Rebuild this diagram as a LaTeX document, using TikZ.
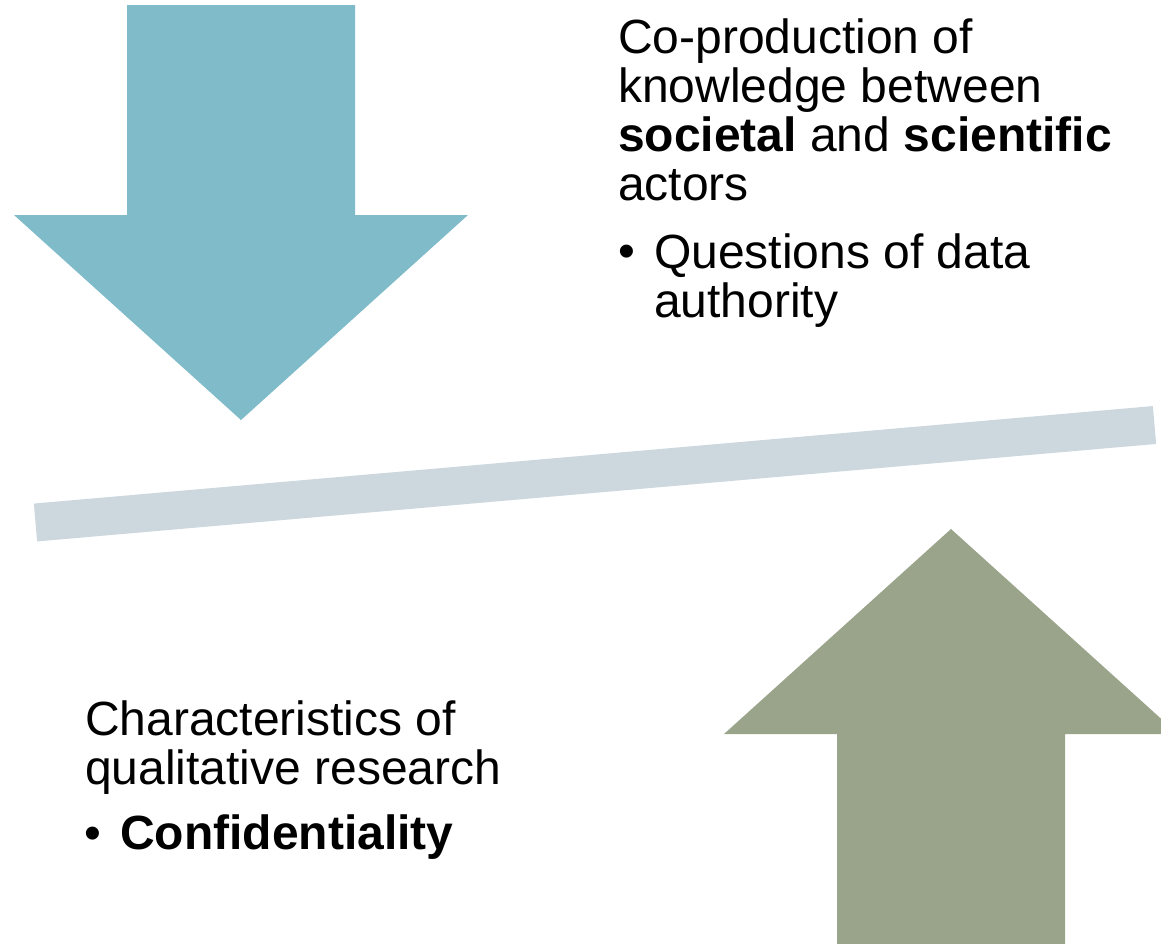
\documentclass[tikz,border=0pt]{standalone}
\usepackage{fontspec}
\setmainfont{Liberation Sans}
\definecolor{downblue}{HTML}{80BBC9}
\definecolor{beamgrey}{HTML}{CCD7DE}
\definecolor{upgreen}{HTML}{99A48A}

\tikzstyle{txt}=[anchor=base west, inner sep=0pt, align=left, font=\fontsize{48}{49}\selectfont]
\tikzstyle{dot}=[anchor=base west, inner sep=0pt, font=\fontsize{48}{49}\selectfont]

\begin{document}
\begin{tikzpicture}[x=1pt, y=-1pt]
\useasboundingbox (0,0) rectangle (1161,943);
\clip (0,0) rectangle (1161,943);
% arrows and beam
\fill[downblue] (127,5) -- (355,5) -- (355,215) -- (468,215) -- (241,420)
  -- (14,215) -- (127,215) -- cycle;
\fill[upgreen] (951,529) -- (1178,734) -- (1065,734) -- (1065,950)
  -- (837,950) -- (837,734) -- (724,734) -- cycle;
\draw[beamgrey, line width=38pt] (35.5,522.5) -- (1154.5,425);
% texts (base = last line)
\node[txt] (coprod) at (618,200) {Co-production of\\knowledge between\\\textbf{societal} and \textbf{scientific}\\actors};
\node[dot] (bulletA) at (618,267) {\textbullet};
\node[txt] (authority) at (654,317) {Questions of data\\authority};
\node[txt] (charact) at (85,784) {Characteristics of\\qualitative research};
\node[dot] (bulletB) at (84,849) {\textbullet};
\node[txt] (confid) at (120,849) {\textbf{Confidentiality}};
\end{tikzpicture}
\end{document}
